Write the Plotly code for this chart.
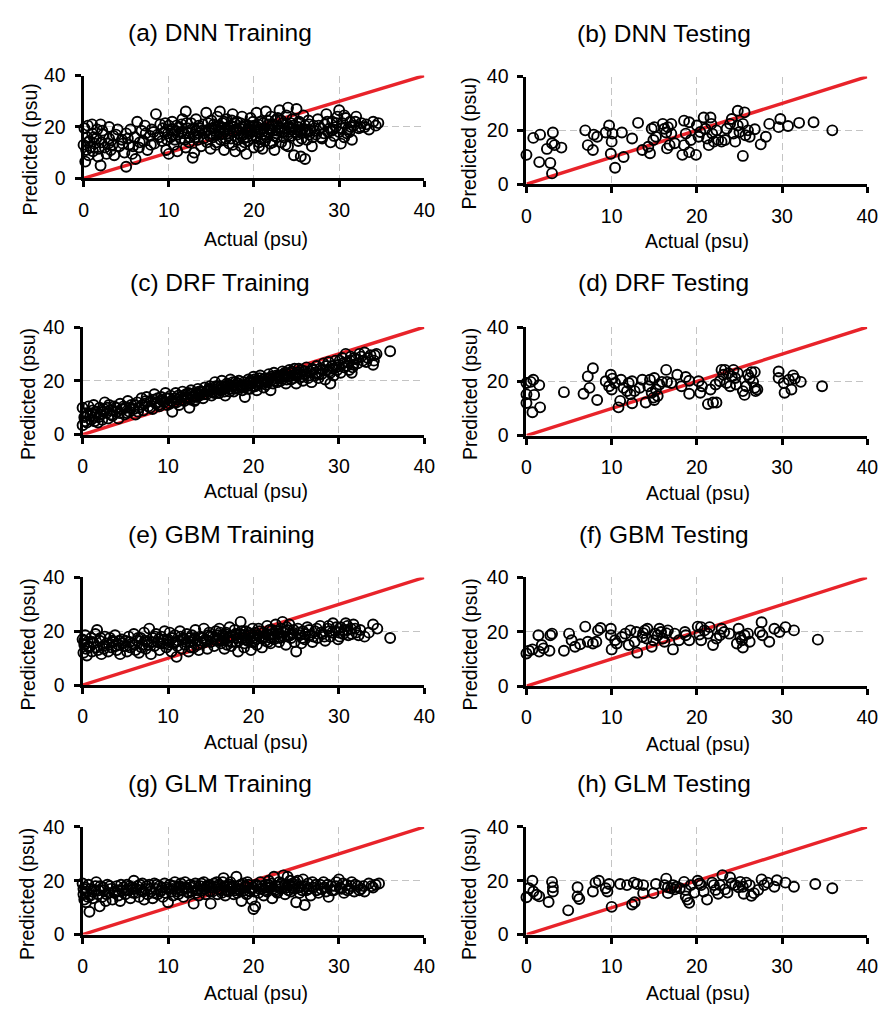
import plotly.graph_objects as go

# ---------------- data ----------------
dnn_train = [
    (0.0,13.0),(0.1,19.5),(0.2,6.5),(0.3,11.0),(0.4,16.0),(0.5,20.5),(0.6,9.0),(0.7,14.5),(0.8,12.0),(1.0,21.0),
    (1.0,17.5),(1.1,10.5),(1.3,13.5),(1.5,15.5),(1.6,19.0),(1.7,8.5),(1.8,11.5),(2.0,21.0),(2.0,5.0),(2.1,14.0),
    (2.3,17.0),(2.5,12.0),(2.7,9.5),(3.0,20.0),(3.0,15.5),(3.2,11.0),(3.4,13.0),(3.6,9.0),(3.8,17.0),
    (4.2,12.5),(4.5,15.0),(4.8,10.0),(5.0,4.5),(5.0,17.5),(5.3,13.0),(5.5,19.0),(5.7,9.5),(6.0,16.0),(6.1,7.5),
    (6.3,22.0),(6.5,12.0),(6.8,18.5),(7.0,14.5),(7.2,20.5),(7.5,11.0),(7.8,16.5),(8.0,19.0),(8.3,13.5),(8.5,25.0),(8.7,17.0),
    (9.0,21.0),(9.2,14.5),(9.5,18.0),(9.7,11.0),(10.0,20.5),(10.0,9.5),(10.2,16.0),(10.4,22.0),(10.6,13.0),(10.8,18.5),
    (11.0,10.5),(11.2,20.0),(11.4,15.5),(11.6,23.0),(11.8,17.5),(12.0,26.0),(12.0,12.0),(12.2,19.5),(12.4,14.0),(12.6,21.5),
    (12.8,8.0),(13.0,17.0),(13.0,10.0),(13.2,23.0),(13.4,15.0),(13.6,19.5),(13.8,12.5),
    (14.0,21.0),(14.2,17.5),(14.4,25.5),(14.5,14.0),(14.7,19.0),(14.9,11.5),(15.0,22.5),(15.2,16.0),(15.4,20.0),(15.5,13.0),
    (15.7,24.0),(15.9,18.0),(16.0,26.0),(16.1,15.0),(16.3,21.5),(16.5,11.0),(16.6,19.0),(16.8,23.0),(17.0,16.5),(17.1,13.5),
    (17.3,20.5),(17.5,25.0),(17.6,18.0),(17.8,10.5),(18.0,22.0),(18.1,15.0),(18.3,19.5),(18.5,12.5),(18.6,24.0),(18.8,17.0),
    (19.0,21.0),(19.1,9.5),(19.3,14.5),(19.5,19.0),(19.6,23.5),(19.8,16.5),(20.0,12.0),(20.0,20.5),
    (20.3,25.5),(20.4,18.0),(20.6,14.0),(20.8,22.0),(21.0,11.5),(21.2,19.5),(21.4,26.0),(21.5,16.0),(21.7,21.0),(21.9,13.5),
    (22.0,24.0),(22.2,18.5),(22.4,11.0),(22.5,22.5),(22.7,16.0),(22.9,20.0),(23.0,26.5),(23.2,14.0),(23.4,21.5),(23.6,18.0),
    (23.8,24.5),(24.0,27.5),(24.0,12.5),(24.2,20.0),(24.4,16.5),(24.5,23.0),(24.7,9.0),(24.9,19.0),(25.0,27.0),(25.2,14.5),
    (25.4,21.5),(25.5,8.5),(25.6,17.5),(25.8,24.5),(26.0,7.5),(26.0,20.5),(26.2,15.0),(26.4,22.5),(26.6,18.5),(26.8,12.5),(27.0,20.5),
    (27.3,17.0),(27.5,23.0),(27.8,19.5),(28.0,15.5),(28.3,21.0),(28.5,25.0),(28.7,18.0),(29.0,14.0),(29.2,22.0),(29.4,16.5),
    (29.6,20.0),(29.8,24.0),(30.0,26.5),(30.0,18.0),(30.2,13.5),(30.4,21.5),(30.6,16.0),(30.8,23.5),(31.0,19.0),(31.3,22.0),
    (31.5,15.0),(31.7,20.5),(32.0,24.0),(32.3,19.5),(32.6,21.5),(33.0,20.0),(33.5,19.0),(34.0,22.0),(34.3,20.5),(34.6,21.5),
    (14.3,18.5),(14.8,16.5),(15.1,19.5),(15.6,17.0),(16.2,20.0),(16.7,15.5),(17.2,18.5),(17.7,21.5),(18.2,17.5),(18.7,20.0),
    (19.2,16.0),(19.7,18.5),(20.2,16.5),(20.7,19.0),(21.1,21.5),(21.6,18.0),(22.1,20.5),(22.6,17.5),(23.1,19.5),(23.5,16.0),
    (24.1,18.0),(24.6,20.5),(25.1,17.0),(25.7,19.0),(26.3,18.0),(13.5,17.5),(12.5,16.0),(11.5,18.0),(10.5,17.0),(9.8,15.0),
    (16.4,17.5),(17.9,19.0),(18.9,14.0),(19.9,22.0),(21.3,14.5),(22.8,23.5),(23.9,21.0),(25.3,22.0),(26.9,16.0),(28.9,19.5),
    (15.3,21.0),(17.4,22.5),(19.4,20.5),(20.9,17.0),(22.3,21.0),
    (8.2,18.0),(8.9,16.0),(9.3,19.5),(9.9,17.5),(10.3,19.0),(10.7,15.0),(11.1,17.0),(11.5,21.0),(11.9,15.0),(12.3,17.5),
    (12.7,19.0),(13.1,16.0),(13.5,20.5),(13.9,18.5),(14.1,15.5),(14.6,21.5),(14.9,17.5),(15.4,18.5),(15.8,20.5),(16.1,17.0),
    (16.5,22.0),(16.9,17.5),(17.3,15.5),(17.6,20.0),(18.0,18.5),(18.4,21.5),(18.8,15.5),(19.2,18.0),(19.6,20.0),(20.1,18.5),
    (20.5,21.0),(20.8,15.5),(21.2,17.0),(21.6,22.5),(22.0,19.0),(22.4,16.5),(22.8,18.5),(23.2,22.5),(23.6,19.5),(24.0,17.0),
    (24.3,21.5),(24.8,18.0),(25.2,20.0),(25.6,15.5),(26.1,19.0),(26.5,21.0),(27.1,18.5),(27.6,20.5),(28.2,17.5),(28.6,22.0),
    (29.1,18.5),(29.7,21.5),(30.3,19.5),(30.9,17.5),(31.4,20.0),(31.9,22.0),(32.5,20.0),(33.2,21.0),(0.5,14.0),(1.2,16.0),
    (2.2,18.5),(2.9,13.5),(3.5,16.5),(4.0,19.0),(4.6,13.5),(5.2,15.5),(5.8,12.5),(6.6,14.0),(7.3,17.5),(7.9,13.0),
    (16.0,19.5),(17.0,20.0),(18.5,16.5),(19.5,17.5),(20.4,20.0),(21.8,19.0),(23.3,18.0),(24.4,19.0),(25.4,18.5),(13.2,18.5),
    (12.1,21.5),(10.9,20.5),(9.6,21.5),(15.6,14.0),(17.5,13.0),(20.6,12.5),(22.2,14.0),(23.7,13.0),(26.5,17.0),(27.9,16.0),
    (29.3,19.0),(30.6,24.5),(31.2,18.0),
]

dnn_test = [
    (0.0,10.9),(0.8,17.2),(1.6,18.4),(1.5,8.2),(2.4,13.1),(2.8,7.9),(3.1,19.2),(3.0,15.2),(3.0,4.0),(3.3,14.5),
    (4.1,13.6),(6.9,20.0),(7.2,14.5),(7.8,12.7),(7.9,18.4),(8.3,17.6),(9.3,19.2),(9.7,21.8),(10.1,18.8),(10.0,15.8),
    (9.9,11.3),(10.4,6.1),(11.2,19.2),(11.4,10.1),(12.4,17.0),(13.1,22.8),(13.6,12.7),(14.3,13.9),(14.5,11.5),(14.7,20.6),
    (14.9,16.4),(15.0,21.2),(15.2,17.6),(16.0,22.4),(16.2,20.6),(16.4,19.2),(16.5,13.3),(16.6,21.2),(16.8,14.5),(17.0,22.4),
    (17.0,18.8),(17.4,15.2),(18.5,23.6),(18.7,18.8),(18.5,14.5),(18.3,10.9),(19.1,23.0),(19.3,16.4),(19.1,11.9),(19.9,10.9),
    (20.0,21.8),(20.2,17.6),(20.4,19.4),(20.8,24.8),(21.0,20.6),(21.2,17.0),(21.4,14.5),(21.6,24.8),(21.7,22.4),(21.8,18.8),
    (22.0,15.8),(22.3,20.0),(22.5,16.4),(22.9,15.8),(23.3,16.4),(23.5,20.6),(23.9,22.4),(24.1,24.2),(24.3,18.8),(24.5,15.8),
    (24.8,27.3),(24.8,21.8),(25.0,19.4),(25.4,22.4),(25.4,10.5),(25.6,26.7),(25.7,18.2),(26.0,20.0),(26.2,17.6),(26.8,20.4),
    (27.5,14.8),(28.1,17.6),(28.5,22.4),(29.6,21.2),(29.8,24.2),(30.7,21.6),(32.0,22.8),(33.7,23.0),(35.9,20.0),
]

drf_train = [
    (0.0,3.5),(0.0,10.0),(0.2,6.5),(0.4,8.0),(0.5,4.5),(0.7,10.5),(0.9,7.0),(1.0,5.5),(1.2,9.0),(1.3,11.0),
    (1.5,6.5),(1.6,8.5),(1.8,4.5),(2.0,10.0),(2.1,7.5),(2.3,5.5),(2.5,9.5),(2.6,12.0),(2.8,8.0),(3.0,6.0),
    (3.1,11.0),(3.3,9.0),(3.5,7.0),(3.7,10.5),(4.0,8.5),(4.2,6.0),(4.4,11.5),(4.6,9.5),(4.9,7.5),(5.1,10.0),
    (5.3,12.5),(5.5,8.5),(5.7,11.0),(6.0,9.5),(6.2,7.5),(6.4,12.0),(6.6,10.0),(6.9,13.5),(7.1,9.0),(7.3,11.5),
    (7.5,14.0),(7.7,10.5),(8.0,12.5),(8.2,9.5),(8.4,15.0),(8.6,11.5),(8.8,13.5),(9.0,10.5),(9.2,14.0),(9.5,12.0),
    (9.7,15.5),(9.9,11.0),(10.1,13.5),(10.3,14.5),(10.5,8.5),(10.7,12.0),(10.9,15.5),(11.1,13.0),(11.3,11.0),(11.5,14.0),
    (11.7,16.0),(11.9,12.5),(12.1,15.0),(12.3,13.5),(12.5,10.0),(12.7,16.5),(12.9,14.0),(13.1,12.5),(13.3,15.5),(13.5,17.0),
    (13.7,14.5),(13.9,16.0),(14.1,13.5),(14.3,17.5),(14.5,15.0),(14.7,16.5),(14.9,18.0),(15.1,14.5),(15.3,17.0),(15.5,19.5),
    (15.7,15.5),(15.9,18.0),(16.1,16.5),(16.3,20.0),(16.5,17.5),(16.7,14.5),(16.9,19.0),(17.1,17.0),(17.3,20.5),(17.5,18.0),
    (17.7,16.0),(17.9,19.5),(18.1,17.5),(18.3,20.0),(18.5,18.5),(18.7,16.5),(18.9,19.5),(19.0,14.0),(19.2,18.0),(19.4,20.5),
    (19.6,17.0),(19.8,19.0),(20.0,21.5),(20.2,18.0),(20.4,16.5),(20.6,20.0),(20.8,22.0),(21.0,19.0),(21.2,17.5),(21.4,21.0),
    (21.6,19.5),(21.8,22.5),(22.0,16.5),(22.2,20.5),(22.4,23.0),(22.6,21.0),(22.8,19.5),(23.0,22.0),(23.2,20.0),(23.4,23.5),
    (23.6,21.5),(23.8,19.0),(24.0,22.5),(24.2,24.0),(24.4,20.5),(24.6,22.0),(24.8,24.5),(25.0,19.0),(25.2,23.0),(25.4,21.0),
    (25.6,24.0),(25.8,20.0),(26.0,22.5),(26.2,25.0),(26.4,21.0),(26.6,23.5),(26.8,19.5),(27.0,24.0),(27.2,22.0),(27.4,25.5),
    (27.6,21.0),(27.8,24.5),(28.0,22.5),(28.2,26.5),(28.4,20.5),(28.6,24.0),(28.8,27.0),(29.0,19.0),(29.0,23.0),(29.2,25.5),
    (29.4,22.0),(29.6,27.5),(29.8,24.0),(30.0,26.0),(30.2,23.0),(30.4,28.5),(30.6,25.0),(30.8,30.0),(31.0,27.0),(31.2,24.0),
    (31.4,29.0),(31.5,23.0),(31.7,26.0),(32.0,28.0),(32.4,30.0),(32.8,27.5),(33.0,30.5),(33.4,28.5),(34.0,26.0),(34.2,29.5),
    (34.4,30.0),(36.0,31.0),
    (14.0,16.0),(14.6,16.0),(15.0,16.5),(15.4,15.5),(15.8,17.0),(16.2,18.0),(16.6,16.0),(17.0,18.5),(17.4,17.0),(17.8,18.5),
    (18.2,19.0),(18.6,17.5),(19.1,18.5),(19.5,19.5),(19.9,18.0),(20.3,19.5),(20.7,21.0),(21.1,20.5),(21.5,18.5),(21.9,21.0),
    (22.3,19.0),(22.7,22.0),(23.1,21.0),(23.5,22.5),(23.9,20.5),(24.3,23.0),(24.7,21.0),(25.1,22.0),(25.5,22.5),(25.9,23.5),
    (12.2,14.0),(12.6,13.0),(13.0,14.5),(13.4,14.0),(13.8,15.0),(11.0,12.0),(11.6,13.0),(10.2,11.5),(9.4,12.5),(8.7,12.0),
    (0.3,5.0),(0.6,7.5),(1.1,8.0),(1.4,5.0),(1.9,6.5),(2.4,8.5),(2.9,10.0),(3.4,7.5),(3.9,10.0),(4.3,8.0),
    (4.8,10.5),(5.2,8.0),(5.6,10.0),(6.1,11.0),(6.5,8.5),(7.0,11.0),(7.4,12.5),(7.9,10.0),(8.3,13.0),(8.9,11.0),
    (9.3,13.0),(9.8,13.5),(10.4,12.5),(10.8,13.5),(11.2,14.5),(11.8,14.5),(12.4,15.5),(12.8,15.0),(13.2,13.0),(13.6,16.0),
    (14.2,15.0),(14.8,17.0),(15.2,16.0),(15.6,18.0),(16.0,15.5),(16.4,17.0),(16.8,18.0),(17.2,16.0),(17.6,19.5),(18.0,17.0),
    (18.4,18.0),(18.8,18.0),(19.3,17.0),(19.7,20.0),(20.1,20.5),(20.5,18.5),(20.9,19.5),(21.3,20.0),(21.7,20.5),(22.1,21.5),
    (22.5,20.0),(22.9,21.5),(23.3,22.0),(23.7,23.0),(24.1,21.5),(24.5,23.5),(24.9,22.5),(25.3,24.5),(25.7,21.5),(26.1,23.5),
    (26.5,22.0),(26.9,24.5),(27.3,23.0),(27.7,22.5),(28.1,24.0),(28.5,25.5),(28.9,23.5),(29.3,24.5),(29.7,25.0),(30.1,27.5),
    (30.5,26.5),(30.9,25.5),(31.3,27.5),(31.8,28.5),(32.2,26.5),(32.6,29.0),(33.2,27.0),(33.7,29.5),(34.1,27.5),(31.6,25.0),
]

drf_test = [
    (0.0,19.4),(0.0,15.2),(0.0,12.0),(0.5,19.8),(0.8,20.6),(0.9,15.0),(0.7,8.6),(1.5,18.6),(1.6,10.4),(4.4,16.0),
    (6.7,15.4),(7.2,21.8),(7.4,17.6),(7.8,24.8),(8.3,13.1),(9.3,20.0),(9.7,18.2),(9.9,22.4),(10.0,17.0),(10.1,21.0),
    (10.4,19.4),(10.8,10.4),(11.0,12.8),(11.1,20.6),(11.4,17.6),(11.8,16.4),(12.0,19.4),(12.2,15.2),(12.4,11.9),(12.4,20.0),
    (12.7,16.4),(13.3,17.6),(13.6,20.6),(14.0,12.2),(14.3,18.2),(14.5,20.6),(14.7,15.8),(14.9,14.0),(15.0,21.2),(15.0,13.1),
    (15.2,17.0),(15.4,14.6),(15.6,18.8),(15.9,19.8),(16.4,24.2),(16.5,19.8),(17.0,19.4),(17.7,22.4),(18.2,18.2),(18.7,21.6),
    (19.1,20.2),(19.1,15.4),(20.2,20.0),(20.4,15.8),(20.6,18.2),(21.3,11.6),(21.6,17.0),(21.9,12.2),(22.2,18.8),(22.3,12.2),
    (22.7,20.0),(22.9,24.2),(23.1,22.4),(23.3,24.2),(23.5,19.4),(23.7,23.0),(23.9,18.2),(24.1,21.8),(24.3,24.2),(24.5,21.2),
    (24.6,18.8),(24.8,23.0),(25.4,16.4),(25.6,15.0),(25.8,18.2),(26.0,22.4),(26.2,21.2),(26.4,23.4),(26.6,19.8),(26.8,17.6),
    (26.9,16.4),(27.1,17.0),(26.8,23.4),(29.6,23.6),(29.6,21.2),(30.2,19.4),(30.3,15.8),(30.8,20.6),(31.1,17.0),(31.3,22.2),
    (31.5,21.0),(32.2,19.8),(34.7,18.2),
]

gbm_train = [
    (0.0,17.0),(0.1,12.0),(0.2,15.0),(0.3,18.5),(0.4,13.5),(0.5,11.0),(0.6,16.0),(0.8,14.0),(1.0,17.5),(1.1,12.5),
    (1.3,15.5),(1.5,19.0),(1.7,20.5),(1.8,13.0),(2.0,16.5),(2.2,11.5),(2.4,14.5),(2.6,18.0),(2.8,15.5),(3.0,12.5),
    (3.2,17.5),(3.4,14.0),(3.6,16.0),(3.8,18.5),(4.0,13.0),(4.2,15.0),(4.4,11.5),(4.6,17.0),(4.8,14.5),
    (5.0,16.5),(5.2,12.5),(5.4,18.0),(5.6,14.0),(5.8,15.5),(6.0,19.0),(6.2,13.0),(6.4,16.5),(6.6,12.0),(6.8,17.5),
    (7.0,15.0),(7.2,19.5),(7.4,13.5),(7.6,16.0),(7.8,21.0),(8.0,11.5),(8.2,17.5),(8.4,14.5),(8.6,19.0),(8.8,16.0),
    (9.0,13.0),(9.2,18.0),(9.4,15.5),(9.6,20.0),(9.8,14.0),
    (10.0,17.0),(10.2,19.5),(10.4,12.5),(10.6,15.5),(10.8,18.5),(11.0,10.5),(11.2,16.5),(11.4,20.0),(11.6,13.5),(11.8,17.5),
    (12.0,15.0),(12.2,19.0),(12.4,12.5),(12.6,16.0),(12.8,18.5),(13.0,14.0),(13.2,20.5),(13.4,16.5),(13.6,13.0),(13.8,18.0),
    (14.0,15.5),(14.2,21.0),(14.4,17.0),(14.6,13.5),(14.8,19.5),
    (15.0,16.0),(15.2,18.0),(15.4,14.5),(15.6,20.0),(15.8,17.0),(16.0,21.0),(16.2,15.5),(16.4,18.5),(16.6,13.5),(16.8,19.5),
    (17.0,16.5),(17.2,21.5),(17.4,14.5),(17.6,18.0),(17.8,20.5),(18.0,16.0),(18.2,12.5),(18.4,19.0),(18.5,23.5),(18.7,17.5),
    (18.9,14.0),(19.1,20.0),(19.3,16.5),(19.5,18.5),(19.7,13.0),(19.9,21.0),
    (20.0,17.5),(20.2,19.5),(20.4,15.0),(20.6,21.0),(20.8,18.0),(21.0,14.0),(21.2,19.5),(21.4,16.5),(21.6,22.0),(21.8,18.5),
    (22.0,15.5),(22.2,20.5),(22.4,17.0),(22.6,22.5),(22.8,19.0),(23.0,16.0),(23.2,21.0),(23.4,23.5),(23.6,18.0),(23.8,15.0),
    (24.0,20.5),(24.2,22.5),(24.4,17.5),(24.6,19.5),(24.8,16.0),
    (25.0,12.5),(25.2,21.0),(25.4,18.5),(25.6,15.5),(25.8,20.0),(26.0,17.0),(26.3,21.5),(26.6,18.5),(26.9,16.0),(27.2,20.0),
    (27.5,17.5),(27.8,22.0),(28.1,19.0),(28.4,16.5),(28.7,21.0),(29.0,18.0),(29.3,23.0),(29.6,20.0),(29.9,17.0),(30.2,21.5),
    (30.5,19.0),(30.8,23.0),(31.1,18.5),(31.4,21.0),(31.7,22.5),(32.0,19.5),(32.5,20.5),(33.0,18.0),(33.5,19.5),(34.0,22.5),
    (34.5,21.0),(36.0,17.5),
    (14.1,17.5),(14.9,18.0),(15.7,16.5),(16.5,17.5),(17.3,18.0),(18.1,17.5),(18.9,18.5),(19.6,17.5),(20.5,18.5),(21.3,18.0),
    (22.1,19.0),(22.9,18.0),(23.7,20.0),(24.5,19.0),(16.9,15.0),(19.0,15.5),(21.7,16.0),(12.9,16.5),(11.9,17.0),(10.9,16.0),
    (9.9,16.5),(8.9,17.0),(28.9,20.0),(30.0,19.5),(31.0,20.5),
    (0.2,16.5),(0.7,14.5),(1.2,16.0),(1.6,14.0),(2.1,17.5),(2.5,13.5),(3.1,15.0),(3.5,16.5),(3.9,14.5),(4.3,16.5),
    (4.7,15.5),(5.1,14.5),(5.5,16.0),(6.1,15.0),(6.5,17.5),(6.9,14.0),(7.3,16.5),(7.7,15.0),(8.1,16.0),(8.5,18.0),
    (9.1,15.5),(9.5,17.0),(10.1,15.0),(10.5,17.5),(11.1,14.5),(11.5,18.0),(12.1,16.0),(12.5,17.5),(13.1,17.5),(13.5,15.0),
    (14.3,16.0),(14.7,18.5),(15.3,17.0),(15.9,18.5),(16.3,16.5),(16.7,19.0),(17.1,17.5),(17.5,16.0),(17.9,19.0),(18.3,16.5),
    (18.6,20.0),(19.2,17.0),(19.4,19.5),(19.8,16.0),(20.3,17.0),(20.7,20.0),(21.1,17.5),(21.5,19.0),(21.9,20.5),(22.3,18.0),
    (22.7,20.0),(23.1,17.5),(23.5,19.5),(23.9,21.5),(24.3,18.5),(24.7,20.5),(25.3,19.5),(25.7,17.5),(26.1,19.0),(26.5,20.5),
    (27.0,18.0),(27.4,21.0),(27.9,19.5),(28.3,18.0),(28.8,22.0),(29.2,19.5),(29.7,21.5),(30.1,18.0),(30.6,20.5),(31.0,22.0),
    (31.5,19.0),(31.9,21.0),(32.3,18.5),(16.1,19.5),(18.0,18.5),(20.0,16.0),(22.0,17.5),(24.0,18.0),(14.5,16.5),(12.7,14.0),
]

gbm_test = [
    (0.0,12.0),(0.3,13.0),(0.7,13.5),(1.4,18.7),(1.5,12.7),(1.8,15.1),(2.0,13.9),(2.8,18.7),(3.0,19.3),(2.7,13.0),
    (4.4,13.0),(5.0,19.3),(5.3,16.9),(5.7,14.5),(6.3,15.4),(6.9,21.9),(7.2,16.3),(7.8,15.7),(8.2,16.3),(8.4,20.5),
    (8.7,21.4),(9.9,21.1),(9.9,18.7),(10.0,13.5),(10.4,16.9),(10.6,15.7),(11.2,18.1),(11.6,19.3),(12.0,15.1),(12.2,20.5),
    (12.7,16.3),(12.9,19.9),(13.0,12.3),(13.6,18.1),(13.7,19.5),(13.9,20.5),(14.1,17.5),(14.2,21.1),(14.7,14.5),(14.9,16.9),
    (15.1,19.3),(15.4,18.7),(15.6,21.1),(15.8,19.9),(16.0,17.5),(16.2,16.3),(16.4,19.5),(16.6,20.5),(17.2,13.5),(17.4,19.3),
    (17.9,16.9),(18.6,19.9),(18.7,18.7),(19.1,16.9),(20.1,21.9),(20.3,19.0),(20.5,21.7),(20.5,16.9),(20.9,20.5),(21.3,19.3),
    (21.5,21.7),(21.9,15.1),(22.3,17.5),(22.7,18.7),(22.9,21.1),(23.2,19.9),(23.8,19.3),(24.7,15.7),(24.9,21.1),(25.1,18.1),
    (25.3,16.9),(25.4,14.2),(25.6,18.7),(26.0,19.3),(26.2,16.3),(27.4,19.9),(27.6,23.5),(27.7,18.7),(28.5,16.3),(29.1,21.1),
    (29.7,19.9),(30.4,21.7),(31.4,20.5),(34.2,17.1),
]

glm_train = [
    (0.0,19.0),(0.1,15.0),(0.2,13.0),(0.3,17.5),(0.4,12.0),(0.5,16.0),(0.7,18.5),(0.8,8.5),(0.9,14.5),(1.0,17.0),
    (1.2,13.5),(1.4,16.5),(1.6,19.5),(1.8,15.0),(2.0,10.5),(2.1,18.0),(2.3,14.0),(2.5,16.5),(2.7,12.5),(2.9,18.5),
    (3.1,15.5),(3.3,17.0),(3.5,13.0),(3.8,16.0),(4.0,18.0),(4.2,14.5),(4.4,12.5),(4.6,16.5),(4.8,17.5),
    (5.0,15.0),(5.2,18.5),(5.4,16.5),(5.6,13.5),(5.8,17.5),(6.0,20.0),(6.2,15.5),(6.4,18.0),(6.6,14.0),(6.8,16.5),
    (7.0,19.0),(7.2,13.0),(7.4,17.0),(7.6,15.0),(7.8,18.5),(8.0,16.0),(8.2,13.5),(8.4,19.0),(8.6,17.0),(8.8,15.0),
    (9.0,18.0),(9.2,16.5),(9.4,14.0),(9.6,19.0),(9.8,17.5),
    (10.0,12.0),(10.2,18.5),(10.4,16.0),(10.6,14.5),(10.8,19.5),(11.0,17.0),(11.2,15.0),(11.4,18.0),(11.6,16.5),(11.8,14.0),
    (12.0,19.5),(12.2,17.5),(12.4,15.5),(12.6,18.5),(12.8,16.0),(13.0,11.5),(13.2,19.0),(13.4,17.0),(13.6,14.5),(13.8,18.0),
    (14.0,16.5),(14.2,19.5),(14.4,15.0),(14.6,17.5),(14.8,18.5),
    (15.0,11.5),(15.2,16.0),(15.4,19.0),(15.6,17.5),(15.8,15.0),(16.0,18.5),(16.2,16.5),(16.5,21.0),(16.7,14.5),(16.9,18.0),
    (17.1,16.0),(17.3,19.5),(17.5,17.0),(17.7,15.0),(18.0,21.5),(18.2,18.0),(18.4,16.5),(18.6,12.5),(18.8,19.0),(19.0,17.5),
    (19.2,15.0),(19.4,18.5),(19.6,16.0),(19.8,13.0),(20.0,9.5),(20.2,10.5),
    (20.4,18.0),(20.6,15.5),(20.8,19.5),(21.0,17.0),(21.2,14.5),(21.4,18.5),(21.6,16.0),(21.8,20.0),(22.0,17.5),(22.2,13.5),
    (22.4,21.5),(22.6,18.0),(22.8,15.5),(23.0,19.5),(23.2,17.0),(23.5,22.0),(23.7,15.0),(24.0,21.5),(24.2,18.5),(24.4,16.0),
    (24.6,19.0),(24.8,17.0),(25.0,12.0),(25.2,20.0),(25.4,15.5),
    (25.6,18.0),(25.8,20.5),(26.0,11.0),(26.2,16.5),(26.4,19.0),(26.7,14.5),(27.0,17.5),(27.3,18.5),(27.6,15.5),(27.9,17.0),
    (28.2,19.5),(28.5,16.0),(28.8,14.0),(29.1,18.0),(29.4,16.5),(29.7,19.5),(30.0,20.5),(30.3,17.0),(30.6,15.5),(30.9,18.5),
    (31.2,17.0),(31.5,19.5),(31.8,16.0),(32.2,18.0),(32.6,17.0),(33.0,16.0),(33.5,19.0),(34.0,17.5),(34.3,18.5),(34.7,19.0),
    (14.3,17.0),(15.1,17.5),(15.9,17.0),(16.6,18.0),(17.4,17.5),(18.3,17.0),(19.1,18.0),(19.9,17.5),(20.7,17.0),(21.5,17.5),
    (22.3,17.0),(23.1,18.0),(23.9,17.5),(24.7,18.0),(12.1,17.0),(11.3,17.5),(10.5,17.0),(16.3,15.5),(18.1,15.5),(20.1,16.0),
    (22.7,16.0),(24.3,20.0),(13.3,15.5),(9.1,16.0),
    (0.1,17.0),(0.6,14.0),(1.1,16.0),(1.5,18.0),(1.9,16.5),(2.4,17.5),(2.8,15.0),(3.2,18.0),(3.7,15.5),(4.1,16.5),
    (4.5,18.5),(5.1,16.5),(5.5,18.0),(5.9,15.5),(6.3,17.0),(6.7,18.5),(7.1,16.0),(7.5,18.0),(7.9,17.0),(8.3,15.5),
    (8.7,18.5),(9.3,17.5),(9.7,15.5),(10.1,17.0),(10.7,18.0),(11.1,16.0),(11.5,19.0),(11.9,17.5),(12.3,16.0),(12.7,17.5),
    (13.1,18.0),(13.5,16.5),(13.9,19.0),(14.5,18.0),(14.9,16.0),(15.3,18.0),(15.7,19.5),(16.1,17.0),(16.4,19.5),(16.8,16.5),
    (17.2,18.5),(17.6,18.0),(17.9,16.5),(18.5,18.5),(18.9,16.5),(19.3,19.5),(19.7,17.0),(20.3,18.5),(20.9,18.0),(21.3,16.5),
    (21.7,18.5),(22.1,19.0),(22.5,16.5),(22.9,18.0),(23.3,19.0),(23.7,18.5),(24.1,16.5),(24.5,17.5),(24.9,19.5),(25.3,17.5),
    (25.7,16.5),(26.1,18.0),(26.5,17.0),(26.9,19.5),(27.4,16.5),(27.8,18.5),(28.3,17.5),(28.7,18.5),(29.2,16.5),(29.6,18.0),
    (30.1,17.5),(30.5,19.0),(31.0,16.5),(31.4,18.0),(31.9,18.5),(32.4,16.5),(32.9,18.0),(33.8,18.0),
]

glm_test = [
    (0.0,13.9),(0.3,17.2),(0.7,20.0),(0.8,16.0),(1.2,14.8),(1.5,14.2),(2.6,12.1),(3.0,19.6),(3.1,17.6),(3.1,16.0),
    (4.9,9.0),(6.0,17.6),(6.0,14.2),(6.2,13.2),(7.8,16.0),(8.1,19.3),(8.5,20.0),(9.3,17.2),(9.5,16.0),(9.7,18.8),
    (10.0,10.3),(11.0,18.8),(11.8,18.4),(12.4,11.2),(12.7,12.0),(12.6,19.3),(13.0,18.8),(13.7,18.4),(13.7,15.4),(14.9,15.4),
    (15.2,18.8),(16.2,18.4),(16.4,20.8),(16.6,17.6),(16.6,15.4),(17.0,17.2),(17.2,18.4),(17.4,16.8),(17.6,17.8),(18.0,17.2),
    (18.5,19.6),(18.7,16.6),(18.7,14.2),(18.9,13.0),(19.1,11.8),(19.3,18.4),(19.7,15.6),(20.1,20.0),(20.3,19.0),(20.5,18.4),
    (20.8,16.0),(21.2,13.0),(21.8,19.3),(22.0,18.4),(22.2,16.6),(22.5,15.2),(22.7,18.4),(23.0,22.1),(23.3,16.8),(23.6,15.6),
    (23.9,21.2),(24.1,19.0),(24.5,18.4),(24.9,17.6),(25.1,19.6),(25.4,17.8),(25.5,15.2),(25.8,19.3),(26.2,18.4),(26.4,14.4),
    (26.7,15.4),(27.2,16.6),(27.6,20.5),(27.9,18.4),(28.3,19.3),(29.1,17.8),(29.4,20.2),(30.4,19.3),(31.4,17.8),(33.9,18.8),
    (35.9,17.2),
]

ref_line = [0, 40]          # 1:1 line
x_ticks = [0, 10, 20, 30, 40]
y_ticks = [0, 20, 40]

titles = ["(a) DNN Training", "(b) DNN Testing", "(c) DRF Training", "(d) DRF Testing",
          "(e) GBM Training", "(f) GBM Testing", "(g) GLM Training", "(h) GLM Testing"]
series = [dnn_train, dnn_test, drf_train, drf_test, gbm_train, gbm_test, glm_train, glm_test]
x_title = "Actual (psu)"
y_title = "Predicted (psu)"

# ---------------- layout (pixel boxes of each plot area) ----------------
W, H = 891, 1017
boxes = [(80, 66, 427, 171), (531, 67, 878, 177),
         (79, 323, 427, 433), (531, 323, 878, 434),
         (79, 579, 427, 689), (531, 579, 878, 690),
         (79, 834, 427, 944), (531, 834, 878, 944)]
title_pos = [(219, 22), (671, 23), (219, 277), (671, 277), (220, 535), (671, 535), (219, 790), (671, 790)]
xt_pos = [(256, 233), (705, 235), (256, 491), (706, 493), (256, 747), (706, 749), (256, 1004), (706, 1004)]
yt_pos = [(25, 142), (473, 136), (23, 392), (473, 392), (23, 648), (473, 648), (23, 903), (473, 903)]

FONT = "Arial, Liberation Sans, sans-serif"
RED = "#e8232a"

fig = go.Figure()
annotations = []
for i, (title, pts) in enumerate(zip(titles, series)):
    n = i + 1
    xa = "x" if n == 1 else f"x{n}"
    ya = "y" if n == 1 else f"y{n}"
    xs = [p[0] for p in pts]
    ys = [p[1] for p in pts]
    fig.add_trace(go.Scatter(x=ref_line, y=ref_line, mode="lines",
                             line=dict(color=RED, width=3.4),
                             xaxis=xa, yaxis=ya, showlegend=False, hoverinfo="skip"))
    fig.add_trace(go.Scatter(x=xs, y=ys, mode="markers", name=title,
                             marker=dict(symbol="circle-open", size=10, color="black",
                                         line=dict(width=1.9, color="black")),
                             cliponaxis=False,
                             xaxis=xa, yaxis=ya, showlegend=False))
    l, t, r, b = boxes[i]
    axis_common = dict(range=[0, 40], showline=True, linecolor="black", linewidth=3,
                       ticks="outside", ticklen=6, tickwidth=3, tickcolor="black",
                       showgrid=True, gridcolor="#c4c4c4", gridwidth=1, griddash="7px,4px",
                       zeroline=False, fixedrange=True,
                       tickfont=dict(family=FONT, size=19.5, color="black"))
    fig.layout[f"xaxis{'' if n == 1 else n}"] = dict(
        domain=[l / W, r / W], anchor=ya, tickvals=x_ticks, ticklabelstandoff=6, **axis_common)
    fig.layout[f"yaxis{'' if n == 1 else n}"] = dict(
        domain=[1 - b / H, 1 - t / H], anchor=xa, tickvals=y_ticks, ticklabelstandoff=5, **axis_common)

    tx, ty = title_pos[i]
    annotations.append(dict(text=title, x=tx / W, y=1 - ty / H, xref="paper", yref="paper",
                            xanchor="center", yanchor="middle", showarrow=False,
                            font=dict(family=FONT, size=24.5, color="black")))
    ax_, ay_ = xt_pos[i]
    annotations.append(dict(text=x_title, x=ax_ / W, y=1 - ay_ / H, xref="paper", yref="paper",
                            xanchor="center", yanchor="middle", showarrow=False,
                            font=dict(family=FONT, size=19.5, color="black")))
    bx, by = yt_pos[i]
    annotations.append(dict(text=y_title, x=bx / W, y=1 - by / H, xref="paper", yref="paper",
                            xanchor="center", yanchor="middle", showarrow=False, textangle=-90,
                            font=dict(family=FONT, size=19.5, color="black")))

fig.update_layout(width=W, height=H, margin=dict(l=0, r=0, t=0, b=0),
                  paper_bgcolor="white", plot_bgcolor="white",
                  annotations=annotations, showlegend=False)

fig.write_html("out.html")
